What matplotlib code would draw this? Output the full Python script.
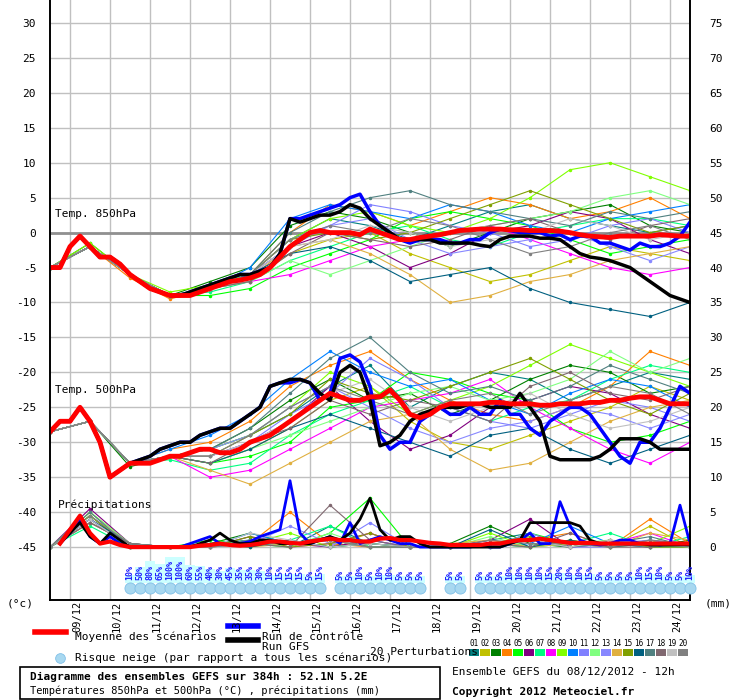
import numpy as np
import matplotlib
matplotlib.use('Agg')
import matplotlib.pyplot as plt
from matplotlib.patches import Rectangle

plt.rcParams['font.family'] = ['DejaVu Sans Mono']

# ---- data (6-hourly steps from 08/12 12h, 0..64) ----
mean_850 = [-5, -5, -2, -0.5, -2, -3.5, -3.5, -4.5, -6, -7, -8, -8.5, -9, -9, -9, -8.5,
            -8, -7.5, -7, -6.8, -6.5, -6, -5, -3.5, -2, -1, 0, 0.3, 0, 0, 0, -0.3,
            0.5, 0, -0.5, -1, -1, -0.7, -0.5, -0.3, 0, 0.3, 0.4, 0.5, 0.5, 0.5, 0.4, 0.4,
            0.3, 0.3, 0.3, 0.2, 0, -0.3, -0.5, -0.6, -0.7, -0.5, -0.5, -0.5, -0.5, -0.3,
            -0.4, -0.5, -0.5]
ctrl_850 = [-5, -5, -2, -0.5, -2, -3.5, -3.5, -4.5, -6, -7, -8, -8.5, -9, -9, -8.5, -8,
            -7.5, -7, -6.5, -6, -6, -5.5, -5, -3, 2, 2, 2.5, 3, 3.5, 4, 5, 5.5,
            3, 1, 0, -1, -1.5, -1, -1, -1, -1.5, -1.5, -1, -1, 0, 0.5, 0.3, 0,
            0, 0, -0.5, -0.3, -1, -0.5, -0.5, -1.5, -1.5, -2, -2.5, -1.5, -2, -2, -1.5,
            -0.5, 1.5]
gfs_850 = [-5, -5, -2, -0.5, -2, -3.5, -3.5, -4.5, -6, -7, -8, -8.5, -9, -9, -8.5, -8,
           -7.5, -7, -6.5, -6, -6, -5.5, -5, -3, 2, 1.5, 2, 2.5, 2.5, 3, 4, 3.5,
           2, 1, 0, -1, -1, -1, -1, -1.5, -1.5, -1.5, -1.5, -1.8, -2, -1, -0.5, -0.5,
           -0.5, -0.8, -0.8, -1, -2, -3, -3.5, -3.7, -4, -4.5, -5, -6, -7, -8, -9,
           -9.5, -10]

mean_500 = [-28.5, -27, -27, -25, -27, -30, -35, -34, -33, -33, -33, -32.5, -32, -32, -31.5, -31,
            -31, -31.5, -31.5, -31, -30, -29.5, -29, -28, -27, -26, -25, -24, -23, -23.5, -24, -24,
            -23.5, -23.5, -22.5, -24, -26, -26.5, -26, -25, -24.5, -24.5, -24.5, -24.5, -24.3, -24.3,
            -24.5, -24.5, -24.5, -24.7, -24.7, -24.5, -24.5, -24.5, -24.3, -24.3, -24, -24, -23.7,
            -23.5, -23.5, -24, -24.5, -24.5, -24.5]
ctrl_500 = [-28.5, -27, -27, -25, -27, -30, -35, -34, -33, -32.5, -32, -31, -30.5, -30, -30, -29,
            -28.5, -28, -28, -27, -26, -25, -22, -21.5, -21.5, -21, -21.5, -24, -23, -18, -17.5, -18.5,
            -22, -29, -31, -30, -30, -27, -26, -25, -26, -26, -25, -26, -26, -24, -26, -26,
            -28, -29, -27, -26, -25, -25, -26, -28, -30, -32, -33, -30, -30, -28, -25, -22, -23]
gfs_500 = [-28.5, -27, -27, -25, -27, -30, -35, -34, -33, -32.5, -32, -31, -30.5, -30, -30, -29,
           -28.5, -28, -28, -27, -26, -25, -22, -21.5, -21, -21, -21.5, -23, -24, -20, -19, -20,
           -24, -30.5, -30, -29, -27, -26, -25.5, -25, -25, -25, -24.5, -24.5, -25, -25, -25, -23,
           -25, -27, -32, -32.5, -32.5, -32.5, -32.5, -32, -31, -29.5, -29.5, -29.5, -30, -31, -31,
           -31, -31]

mean_pr = [0, 0.5, 2.5, 4.5, 2, 0.5, 0.8, 0.3, 0, 0, 0, 0, 0, 0, 0, 0.2, 0.3, 0.5, 0.3, 0.2,
           0.3, 0.5, 0.8, 0.8, 0.6, 0.5, 0.8, 1.0, 1.2, 1.0, 1.0, 0.8, 0.8, 1.2, 1.3, 1.0, 1.0,
           0.8, 0.6, 0.5, 0.3, 0.3, 0.3, 0.3, 0.5, 0.5, 0.8, 1.0, 1.0, 1.2, 1.0, 0.8, 0.6, 0.6,
           0.6, 0.5, 0.5, 0.5, 0.5, 0.5, 0.5, 0.5, 0.5, 0.5, 0.5]
ctrl_pr = [0, 0.5, 2, 4, 1.5, 0.5, 1.5, 0.5, 0, 0, 0, 0, 0, 0, 0.5, 1, 1.5, 0.5, 0.3, 0.5,
           0.8, 1.5, 2, 2.5, 9.5, 2, 0.5, 1, 1.5, 0.5, 3.5, 0.5, 1, 1.5, 1, 0.5, 0.5, 0, 0, 0,
           0, 0, 0, 0.3, 0, 0, 0.5, 1, 2, 0.5, 0.5, 6.5, 3, 1, 0.5, 0.3, 0.5, 1, 1, 0.5, 0.5,
           0.3, 0.5, 6, 0.5]
gfs_pr = [0, 0.5, 2, 3.5, 1.5, 0.5, 2, 1, 0, 0, 0, 0, 0, 0, 0, 0.5, 1, 2, 1, 0.5, 0.5, 1, 1,
          0.5, 0.5, 0.5, 0.5, 1, 1.5, 1, 2, 4, 7, 2.5, 1, 1.5, 1.5, 0.5, 0, 0, 0, 0, 0, 0, 0,
          0, 0.5, 1, 3.5, 3.5, 3.5, 3.5, 3.5, 3, 1, 0.5, 0.5, 0.5, 0.5, 0.5, 0.3, 0.3, 0.3, 0.3, 0.3]

# perturbations, daily values (every 4th step)
pert_850 = [
    [-5, -2, -6, -9, -8, -6, -1, 2, 1, -1, 1, 3, 4, 2, 1, 0, 1],
    [-5, -2, -6, -9, -8, -7, -3, -1, 0, -3, -5, -7, -6, -4, -2, -3, -4],
    [-5, -1.5, -6, -9, -7, -5, 1, 3, 2, 0, -2, 0, 2, 3, 4, 1, 0],
    [-5, -2, -6.5, -9.5, -8, -6, 0, 4, 3, 1, 3, 5, 4, 2, 3, 5, 2],
    [-5, -2, -6, -9, -9, -8, -5, -3, -1, 2, 3, 2, 1, -1, -3, -2, -1],
    [-5, -2, -6, -9, -8, -6, -2, 0, -2, -5, -3, 0, 1, 3, 2, -1, -3],
    [-5, -2, -6, -9, -8.5, -7, -4, -2, 0, 1, -1, -2, 0, 1, 2, 2, 1],
    [-5, -2, -6, -9, -8, -7, -6, -4, -2, -1, 0, 1, -1, -3, -5, -6, -5],
    [-5, -1.5, -6, -8.5, -7.5, -6, -1, 2, 3, 1, 0, 2, 5, 9, 10, 8, 6],
    [-5, -2, -6, -9, -8, -5, 2, 4, 3, 2, 4, 3, 1, 0, 2, 3, 4],
    [-5, -2, -6, -9, -8, -6, -2, 1, 4, 3, 1, 0, -2, -1, 1, 2, 0],
    [-5, -2, -6, -9, -8, -7, -4, -6, -4, -2, 0, 1, 2, 3, 5, 6, 4],
    [-5, -2, -6, -9, -8, -6, -1, 1, 2, -1, -3, -2, -1, 0, -2, -4, -2],
    [-5, -2, -6, -9, -8, -6.5, -2, -1, -3, -6, -10, -9, -7, -6, -4, -3, -2],
    [-5, -2, -6, -9, -8, -6, -1, 0, -1, 0, 2, 4, 6, 4, 2, 0, 1],
    [-5, -2, -6, -9, -8, -6, -3, -2, -4, -7, -6, -5, -8, -10, -11, -12, -10],
    [-5, -2, -6, -9, -8, -6, 0, 3, 5, 6, 4, 3, 2, 1, 3, 2, 3],
    [-5, -2, -6, -9, -8, -7, -3, 0, -1, -2, -1, 1, 2, 0, -1, 1, 2],
    [-5, -2, -6, -9, -8, -6, -2, -1, 1, 0, -2, -1, 0, 2, 1, -1, 0],
    [-5, -2, -6, -9, -8, -6, -1, 1, 0, 2, 1, -1, -3, -2, 0, 1, -1],
]
pert_500 = [
    [-28.5, -27, -33, -32, -31, -29, -26, -22, -19, -25, -22, -20, -21, -24, -22, -20, -21],
    [-28.5, -27, -33, -32, -33, -31, -28, -24, -22, -27, -30, -31, -29, -27, -25, -22, -24],
    [-28.5, -27, -33.5, -32, -31, -28, -24, -21, -24, -23, -26, -24, -21, -19, -20, -23, -22],
    [-28.5, -27, -33, -31, -30, -27, -22, -19, -17, -21, -24, -26, -27, -25, -22, -17, -19],
    [-28.5, -27, -33, -32, -33, -32, -30, -25, -24, -20, -21, -23, -24, -28, -30, -29, -27],
    [-28.5, -27, -33, -32, -32, -30, -27, -22, -27, -31, -29, -25, -24, -22, -23, -26, -28],
    [-28.5, -27, -33, -32.5, -34, -33, -29, -26, -24, -22, -25, -27, -25, -24, -21, -19, -20],
    [-28.5, -27, -33, -32, -35, -34, -31, -28, -25, -24, -23, -21, -25, -28, -31, -33, -30],
    [-28.5, -27, -33, -32, -31, -29, -25, -20, -22, -26, -24, -22, -19, -16, -18, -20, -22],
    [-28.5, -27, -33, -31, -29, -26, -21, -17, -20, -22, -21, -24, -26, -23, -21, -22, -25],
    [-28.5, -27, -33, -32, -32, -30, -26, -23, -18, -21, -25, -27, -28, -26, -24, -25, -27],
    [-28.5, -27, -33, -32, -33, -31, -29, -27, -25, -23, -22, -24, -23, -21, -17, -20, -18],
    [-28.5, -27, -33, -32, -31, -29, -25, -22, -25, -28, -30, -28, -27, -25, -26, -28, -26],
    [-28.5, -27, -33, -32, -34, -36, -33, -30, -27, -26, -31, -34, -33, -30, -27, -25, -24],
    [-28.5, -27, -33, -32, -32, -29, -26, -21, -23, -24, -22, -20, -18, -21, -24, -26, -23],
    [-28.5, -27, -33, -32, -33, -31, -28, -26, -28, -30, -32, -29, -28, -31, -33, -31, -29],
    [-28.5, -27, -33, -32, -31, -28, -23, -18, -15, -20, -23, -22, -24, -22, -19, -21, -23],
    [-28.5, -27, -33, -32, -33, -30, -28, -24, -26, -24, -25, -27, -22, -20, -23, -24, -22],
    [-28.5, -27, -33, -32, -32, -30, -27, -23, -21, -25, -27, -25, -23, -26, -28, -27, -25],
    [-28.5, -27, -33, -32, -32, -29, -25, -22, -24, -26, -24, -23, -26, -24, -22, -23, -26],
]
pert_pr = [
    [0, 4, 0, 0, 0.5, 1, 0, 3, 0.5, 0, 0, 1, 2, 0, 1, 0, 0.5],
    [0, 5, 0.5, 0, 0, 0.5, 1, 0, 2, 0, 0, 0.5, 0, 1, 0, 3, 0],
    [0, 4.5, 0, 0, 0.5, 2, 0.5, 1, 0, 0, 0.5, 3, 0.5, 0, 0.5, 0, 1],
    [0, 3.5, 0.5, 0, 0, 0.5, 5, 0.5, 0, 0, 0, 0.5, 1, 2, 0, 4, 0.5],
    [0, 4, 0, 0, 1, 0.5, 0, 2, 7, 0, 0, 0, 2, 0.5, 0, 1, 0],
    [0, 5.5, 0.5, 0, 0, 1.5, 0.5, 0, 1, 0, 0, 1, 4, 0, 1, 0, 0],
    [0, 3, 0, 0, 0.5, 0, 1, 3, 0, 0, 0, 0.5, 0, 0.5, 2, 0, 1.5],
    [0, 4, 0.5, 0, 0, 1, 0, 0.5, 2, 0, 0, 0, 1, 0, 0.5, 2, 0],
    [0, 4.5, 0, 0, 0.5, 0.5, 2, 0, 0.5, 0, 0, 2, 0, 1, 0, 0.5, 3],
    [0, 3.5, 0.5, 0, 0, 2, 0.5, 1, 0, 0, 0.5, 0, 0.5, 3, 0.5, 0, 0],
    [0, 4, 0, 0, 0.5, 0.5, 1, 0, 3.5, 0, 0, 0.5, 1, 0, 0, 1, 0.5],
    [0, 5, 0.5, 0, 0, 1, 0, 2, 0, 0, 0, 1.5, 0, 0.5, 1, 0, 0],
    [0, 4, 0, 0, 0, 0.5, 3, 0.5, 1, 0, 0, 0, 2, 0, 0.5, 1, 0],
    [0, 3.5, 0.5, 0, 0.5, 0, 0.5, 1, 0, 0, 0.5, 1, 0, 0.5, 0, 2, 1],
    [0, 4.5, 0, 0, 0, 1.5, 0, 0.5, 2, 0, 0, 0.5, 1.5, 0, 1, 0, 0],
    [0, 4, 0.5, 0, 0.5, 0, 1, 0, 0.5, 0, 0, 2.5, 0, 1, 0, 0.5, 0.5],
    [0, 5, 0, 0, 0, 1, 0.5, 1.5, 0, 0, 0, 0, 1, 0, 0.5, 1.5, 0],
    [0, 3.5, 0.5, 0, 0.5, 0.5, 0, 6, 1, 0, 0, 0.5, 0, 2, 0, 0, 0.5],
    [0, 4, 0, 0, 0, 2, 1, 0, 0.5, 0, 0.5, 0, 1, 0, 1, 0.5, 0],
    [0, 4.5, 0.5, 0, 0, 0.5, 0.5, 1, 0, 0, 0, 1, 0.5, 0.5, 0, 1, 0.5],
]
pert_colors = ['#008080', '#c0c000', '#008000', '#ff8000', '#00ff00', '#800080', '#00ff80',
               '#ff00ff', '#80ff00', '#0080ff', '#8080ff', '#80ff80', '#8888ff', '#e0b040',
               '#80a000', '#006080', '#508080', '#806870', '#c0c0c0', '#808080']

# snow risk (%) : (first step index, values)
snow_groups = [
    (8, [10, 50, 80, 65, 100, 100, 60, 55, 40, 30, 45, 35, 35, 30, 10, 15, 15, 15, 5, 15]),
    (29, [5, 5, 10, 5, 10, 10, 5, 5, 5]),
    (40, [5, 5]),
    (43, [5, 5, 5, 10, 10, 10, 10, 15, 20, 10, 10, 15, 5, 5, 5, 5, 10, 15, 10, 5, 5, 10]),
]
dates = ['09/12', '10/12', '11/12', '12/12', '13/12', '14/12', '15/12', '16/12',
         '17/12', '18/12', '19/12', '20/12', '21/12', '22/12', '23/12', '24/12']
left_ticks = list(range(30, -50, -5))
PR0 = -45  # precipitation baseline on the left scale

fig = plt.figure(figsize=(7.4, 7.0), dpi=100)
ax = fig.add_axes([50 / 740, 1 - 600 / 700, 640 / 740, 600 / 700])
ymin, ymax = -45 - 53 / 7, 30 + 23 / 7
ax.set_xlim(0, 64)
ax.set_ylim(ymin, ymax)

for v in left_ticks:
    ax.axhline(v, color='#c0c0c0', lw=1, zorder=0)
for d in range(16):
    ax.axvline(2 + 4 * d, color='#c0c0c0', lw=1, zorder=0)
ax.axhline(0, color='#909090', lw=2, zorder=0)

days = np.arange(17) * 4
for i in range(20):
    c = pert_colors[i]
    kw = dict(color=c, lw=0.8, marker='o', ms=1.5, zorder=2)
    ax.plot(days, pert_850[i], **kw)
    ax.plot(days, pert_500[i], **kw)
    ax.plot(days, PR0 + np.array(pert_pr[i]), **kw)

for vals, col, lw, z in [(ctrl_850, '#0000ff', 2.5, 3), (gfs_850, 'black', 2.5, 4),
                         (mean_850, 'red', 3.5, 5)]:
    ax.plot(np.arange(len(vals)), vals, color=col, lw=lw, zorder=z)
for vals, col, lw, z in [(ctrl_500, '#0000ff', 2.5, 3), (gfs_500, 'black', 2.5, 4),
                         (mean_500, 'red', 3.5, 5)]:
    ax.plot(np.arange(len(vals)), vals, color=col, lw=lw, zorder=z)
for vals, col, lw, z in [(ctrl_pr, '#0000ff', 2, 3), (gfs_pr, 'black', 2, 4),
                         (mean_pr, 'red', 3, 5)]:
    ax.plot(np.arange(1, len(vals)), PR0 + np.array(vals[1:]), color=col, lw=lw, zorder=z)

ax.text(0.5, 2, 'Temp. 850hPa', fontsize=8, va='bottom')
ax.text(0.5, -23.2, 'Temp. 500hPa', fontsize=8, va='bottom')
ax.text(0.8, -39.7, 'Précipitations', fontsize=8, va='bottom')

ax.set_xticks([])
ax.set_yticks(left_ticks)
ax.set_yticklabels([str(v) for v in left_ticks], fontsize=8)
ax.tick_params(axis='y', length=0, pad=10)
sec = ax.twinx()
sec.set_ylim(ymin, ymax)
sec.set_yticks(left_ticks)
sec.set_yticklabels([str(v + 45) for v in left_ticks], fontsize=8)
sec.tick_params(axis='y', length=0, pad=14)
for a in (ax, sec):
    a.spines['top'].set_visible(False)
    for s in ('left', 'right', 'bottom'):
        a.spines[s].set_linewidth(1.2)

# overlay in pixel coordinates
ov = fig.add_axes([0, 0, 1, 1])
ov.set_xlim(0, 740)
ov.set_ylim(700, 0)
ov.axis('off')
ov.patch.set_alpha(0)

# snow risk
for start, vals in snow_groups:
    for k, p in enumerate(vals):
        xp = 50 + 10 * (start + k)
        top = 577 - 0.2 * p
        ov.add_patch(Rectangle((xp - 5, top), 10, 583 - top, color='#ccffff', lw=0))
        ov.text(xp, 580, f'{p}%', rotation=90, ha='center', va='bottom',
                fontsize=6, color='#2020ff', fontweight='bold')
        ov.plot(xp, 588, marker='o', ms=8, color='#a8d8f0', mec='#80c0e8', mew=0.6)

for d, lab in enumerate(dates):
    ov.text(50 + 10 * (2 + 4 * d) + 7, 601, lab, rotation=90, ha='center', va='top', fontsize=7.5)
ov.text(20, 606, '(°c)', fontsize=8, ha='center')
ov.text(718, 606, '(mm)', fontsize=8, ha='center')

ov.plot([35, 66], [632, 632], color='red', lw=4)
ov.text(75, 637, 'Moyenne des scénarios', fontsize=8, va='center')
ov.plot([228, 258], [626, 626], color='#0000ff', lw=4)
ov.text(262, 637, 'Run de contrôle', fontsize=8, va='center')
ov.plot([228, 258], [640, 640], color='black', lw=4)
ov.text(262, 647, 'Run GFS', fontsize=8, va='center')
ov.plot(60, 658, marker='o', ms=7, color='#a8d8f0', mec='#80c0e8', mew=0.6)
ov.text(75, 658, 'Risque neige (par rapport a tous les scénarios)', fontsize=8, va='center')
ov.text(370, 652, '20 Perturbations', fontsize=8, va='center')
for i, c in enumerate(pert_colors):
    x0 = 469 + i * 11
    ov.add_patch(Rectangle((x0, 649), 10, 7, color=c, lw=0))
    ov.text(x0 + 5, 644, f'{i + 1:02d}', fontsize=5.5, ha='center', va='center')

ov.add_patch(Rectangle((20, 667), 420, 32, fill=False, ec='black', lw=1.2))
ov.text(30, 677, 'Diagramme des ensembles GEFS sur 384h : 52.1N 5.2E',
        fontsize=8, fontweight='bold', va='center')
ov.text(30, 691, 'Températures 850hPa et 500hPa (°C) , précipitations (mm)',
        fontsize=7.5, va='center')
ov.text(452, 672, 'Ensemble GEFS du 08/12/2012 - 12h', fontsize=8, va='center')
ov.text(452, 692, 'Copyright 2012 Meteociel.fr', fontsize=8, fontweight='bold', va='center')

fig.savefig('out.png', dpi=100, facecolor='white')
